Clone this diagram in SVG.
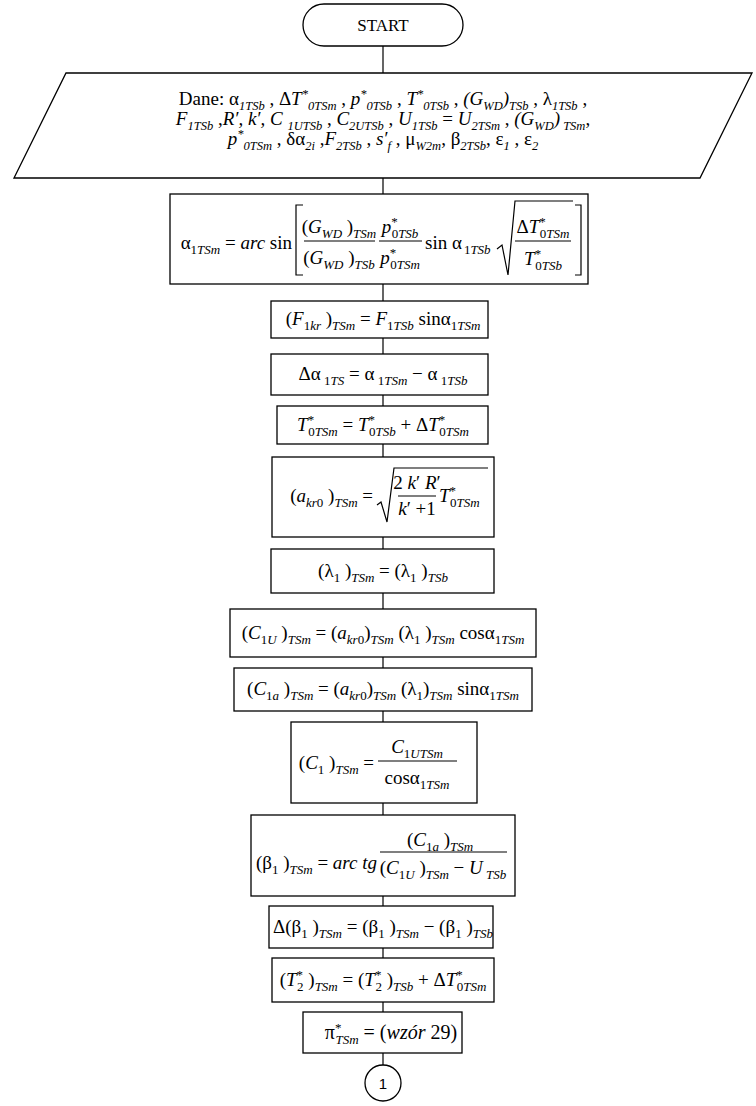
<svg xmlns="http://www.w3.org/2000/svg" width="756" height="1106" viewBox="0 0 756 1106">
<style>
.f{font-family:"Liberation Serif","Times New Roman",serif;font-size:19px;fill:#000}
.d{font-size:19px}
.i{font-style:italic}
.s{font-size:13px}
.ds{font-size:12.5px;font-style:italic}
.b{fill:#fff;stroke:#000;stroke-width:1.3}
.l{fill:none;stroke:#000;stroke-width:1.2}
.c{font-family:"Liberation Sans",Arial,sans-serif;font-size:15px;fill:#000}
</style>
<rect width="756" height="1106" fill="#fff"/>
<g id="connectors" class="l">
<path d="M383 46V73M383 178V194M383 284V301M383 338V354M383 395V406M383 444V457M383 537V549M383 593V609M383 657V668M383 711V722M383 803V815M383 896V906M383 948V958M383 1002V1012M383 1053V1065"/>
</g>
<g id="start">
<rect class="b" x="303" y="4" width="160" height="42" rx="21"/>
<text class="f" x="383" y="31" text-anchor="middle" style="font-size:17px">START</text>
</g>
<g id="dane">
<path class="b" d="M66 73H752L700 178H14Z"/>
<text class="f d" x="383" y="105" text-anchor="middle">Dane: α<tspan class="ds" dy="5">1TSb</tspan><tspan dy="-5"> , Δ</tspan><tspan class="i">T</tspan><tspan class="ds" dy="-7">*</tspan><tspan class="ds" dy="12">0TSm</tspan><tspan dy="-5"> , </tspan><tspan class="i">p</tspan><tspan class="ds" dy="-7">*</tspan><tspan class="ds" dy="12">0TSb</tspan><tspan dy="-5"> , </tspan><tspan class="i">T</tspan><tspan class="ds" dy="-7">*</tspan><tspan class="ds" dy="12">0TSb</tspan><tspan dy="-5"> , </tspan><tspan class="i">(G</tspan><tspan class="ds" dy="5">WD</tspan><tspan class="i" dy="-5">)</tspan><tspan class="ds" dy="5">TSb</tspan><tspan dy="-5"> , λ</tspan><tspan class="ds" dy="5">1TSb</tspan><tspan dy="-5"> ,</tspan></text>
<text class="f d" x="383" y="125" text-anchor="middle"><tspan class="i">F</tspan><tspan class="ds" dy="5">1TSb</tspan><tspan dy="-5"> ,</tspan><tspan class="i">R′, k′, C </tspan><tspan class="ds" dy="5">1UTSb</tspan><tspan dy="-5"> , </tspan><tspan class="i">C</tspan><tspan class="ds" dy="5">2UTSb</tspan><tspan dy="-5"> , </tspan><tspan class="i">U</tspan><tspan class="ds" dy="5">1TSb</tspan><tspan dy="-5"> = </tspan><tspan class="i">U</tspan><tspan class="ds" dy="5">2TSm</tspan><tspan dy="-5"> , </tspan><tspan class="i">(G</tspan><tspan class="ds" dy="5">WD</tspan><tspan class="i" dy="-5">)</tspan><tspan class="ds" dy="5"> TSm</tspan><tspan dy="-5">,</tspan></text>
<text class="f d" x="383" y="145" text-anchor="middle"><tspan class="i">p</tspan><tspan class="ds" dy="-7">*</tspan><tspan class="ds" dy="12">0TSm</tspan><tspan dy="-5"> , δα</tspan><tspan class="ds" dy="5">2i</tspan><tspan dy="-5"> ,</tspan><tspan class="i">F</tspan><tspan class="ds" dy="5">2TSb</tspan><tspan dy="-5"> , </tspan><tspan class="i">s′</tspan><tspan class="ds" dy="5">f</tspan><tspan dy="-5"> , μ</tspan><tspan class="ds" dy="5">W2m</tspan><tspan dy="-5">, β</tspan><tspan class="ds" dy="5">2TSb</tspan><tspan dy="-5">, ε</tspan><tspan class="ds" dy="5">1</tspan><tspan dy="-5"> , ε</tspan><tspan class="ds" dy="5">2</tspan></text>
</g>
<g id="alpha1">
<rect class="b" x="170" y="194" width="418" height="90"/>
<text class="f" x="292" y="249" text-anchor="end">α<tspan class="s" dy="5">1</tspan><tspan class="s i">TSm</tspan><tspan dy="-5"> = </tspan><tspan class="i">arc</tspan> sin</text>
<path class="l" d="M303 205H296V275H303"/>
<text class="f" x="339" y="233" text-anchor="middle">(<tspan class="i">G</tspan><tspan class="s i" dy="5">WD</tspan><tspan dy="-5"> )</tspan><tspan class="s i" dy="5">TSm</tspan></text>
<path class="l" d="M304 241H375"/>
<text class="f" x="339" y="264" text-anchor="middle">(<tspan class="i">G</tspan><tspan class="s i" dy="5">WD</tspan><tspan dy="-5"> )</tspan><tspan class="s i" dy="5">TSb</tspan></text>
<text class="f" x="400" y="233" text-anchor="middle"><tspan class="i">p</tspan><tspan class="s" dy="-7">*</tspan><tspan class="s" dx="-6" dy="12">0</tspan><tspan class="s i">TSb</tspan></text>
<path class="l" d="M379 241H422"/>
<text class="f" x="400" y="264" text-anchor="middle"><tspan class="i">p</tspan><tspan class="s" dy="-7">*</tspan><tspan class="s" dx="-6" dy="12">0</tspan><tspan class="s i">TSm</tspan></text>
<text class="f" x="425" y="249">sin α<tspan class="s" dx="2" dy="5">1</tspan><tspan class="s i">TSb</tspan></text>
<path class="l" d="M497 249L502 245L508 275L515 201H573"/>
<text class="f" x="543" y="233" text-anchor="middle">Δ<tspan class="i">T</tspan><tspan class="s" dy="-7">*</tspan><tspan class="s" dx="-6" dy="12">0</tspan><tspan class="s i">TSm</tspan></text>
<path class="l" d="M515 241H571"/>
<text class="f" x="543" y="265" text-anchor="middle"><tspan class="i">T</tspan><tspan class="s" dy="-7">*</tspan><tspan class="s" dx="-6" dy="12">0</tspan><tspan class="s i">TSb</tspan></text>
<path class="l" d="M575 205H581V275H575"/>
</g>
<g id="f1kr">
<rect class="b" x="271" y="301" width="217" height="37"/>
<text class="f" x="383" y="325" text-anchor="middle">(<tspan class="i">F</tspan><tspan class="s" dy="5">1</tspan><tspan class="s i">kr</tspan><tspan dy="-5"> )</tspan><tspan class="s i" dy="5">TSm</tspan><tspan dy="-5"> = </tspan><tspan class="i">F</tspan><tspan class="s" dy="5">1</tspan><tspan class="s i">TSb</tspan><tspan dy="-5"> sinα</tspan><tspan class="s" dy="5">1</tspan><tspan class="s i">TSm</tspan></text>
</g>
<g id="dalpha">
<rect class="b" x="271" y="354" width="217" height="41"/>
<text class="f" x="383" y="380" text-anchor="middle">Δα<tspan class="s" dy="5"> 1</tspan><tspan class="s i">TS</tspan><tspan dy="-5"> = α</tspan><tspan class="s" dy="5"> 1</tspan><tspan class="s i">TSm</tspan><tspan dy="-5"> − α</tspan><tspan class="s" dy="5"> 1</tspan><tspan class="s i">TSb</tspan></text>
</g>
<g id="t0">
<rect class="b" x="277" y="406" width="211" height="38"/>
<text class="f" x="383" y="431" text-anchor="middle"><tspan class="i">T</tspan><tspan class="s" dy="-7">*</tspan><tspan class="s" dx="-6" dy="12">0</tspan><tspan class="s i">TSm</tspan><tspan dy="-5"> = </tspan><tspan class="i">T</tspan><tspan class="s" dy="-7">*</tspan><tspan class="s" dx="-6" dy="12">0</tspan><tspan class="s i">TSb</tspan><tspan dy="-5"> + Δ</tspan><tspan class="i">T</tspan><tspan class="s" dy="-7">*</tspan><tspan class="s" dx="-6" dy="12">0</tspan><tspan class="s i">TSm</tspan></text>
</g>
<g id="akr0">
<rect class="b" x="272" y="457" width="222" height="80"/>
<text class="f" x="373" y="502" text-anchor="end">(<tspan class="i">a</tspan><tspan class="s i" dy="5">kr</tspan><tspan class="s">0</tspan><tspan dy="-5"> )</tspan><tspan class="s i" dy="5">TSm</tspan><tspan dy="-5"> =</tspan></text>
<path class="l" d="M377 505L381 502L387 522L394 468H488"/>
<text class="f" x="417" y="489" text-anchor="middle">2 <tspan class="i">k</tspan>′ <tspan class="i">R</tspan>′</text>
<path class="l" d="M398 496H436"/>
<text class="f" x="417" y="515" text-anchor="middle"><tspan class="i">k</tspan>′ +1</text>
<text class="f" x="439" y="502"><tspan class="i">T</tspan><tspan class="s" dy="-7">*</tspan><tspan class="s" dx="-6" dy="12">0</tspan><tspan class="s i">TSm</tspan></text>
</g>
<g id="lambda">
<rect class="b" x="271" y="549" width="223" height="44"/>
<text class="f" x="383" y="577" text-anchor="middle">(λ<tspan class="s" dy="5">1</tspan><tspan dy="-5"> )</tspan><tspan class="s i" dy="5">TSm</tspan><tspan dy="-5"> = (λ</tspan><tspan class="s" dy="5">1</tspan><tspan dy="-5"> )</tspan><tspan class="s i" dy="5">TSb</tspan></text>
</g>
<g id="c1u">
<rect class="b" x="230" y="609" width="306" height="48"/>
<text class="f" x="383" y="639" text-anchor="middle">(<tspan class="i">C</tspan><tspan class="s" dy="5">1</tspan><tspan class="s i">U</tspan><tspan dy="-5"> )</tspan><tspan class="s i" dy="5">TSm</tspan><tspan dy="-5"> = (</tspan><tspan class="i">a</tspan><tspan class="s i" dy="5">kr</tspan><tspan class="s">0</tspan><tspan dy="-5">)</tspan><tspan class="s i" dy="5">TSm</tspan><tspan dy="-5"> (λ</tspan><tspan class="s" dy="5">1</tspan><tspan dy="-5"> )</tspan><tspan class="s i" dy="5">TSm</tspan><tspan dy="-5"> cosα</tspan><tspan class="s" dy="5">1</tspan><tspan class="s i">TSm</tspan></text>
</g>
<g id="c1a">
<rect class="b" x="234" y="668" width="298" height="43"/>
<text class="f" x="383" y="695" text-anchor="middle">(<tspan class="i">C</tspan><tspan class="s" dy="5">1</tspan><tspan class="s i">a</tspan><tspan dy="-5"> )</tspan><tspan class="s i" dy="5">TSm</tspan><tspan dy="-5"> = (</tspan><tspan class="i">a</tspan><tspan class="s i" dy="5">kr</tspan><tspan class="s">0</tspan><tspan dy="-5">)</tspan><tspan class="s i" dy="5">TSm</tspan><tspan dy="-5"> (λ</tspan><tspan class="s" dy="5">1</tspan><tspan dy="-5">)</tspan><tspan class="s i" dy="5">TSm</tspan><tspan dy="-5"> sinα</tspan><tspan class="s" dy="5">1</tspan><tspan class="s i">TSm</tspan></text>
</g>
<g id="c1">
<rect class="b" x="291" y="722" width="186" height="81"/>
<text class="f" x="374" y="769" text-anchor="end">(<tspan class="i">C</tspan><tspan class="s" dy="5">1</tspan><tspan dy="-5"> )</tspan><tspan class="s i" dy="5">TSm</tspan><tspan dy="-5"> =</tspan></text>
<text class="f" x="417" y="753" text-anchor="middle"><tspan class="i">C</tspan><tspan class="s" dy="5">1</tspan><tspan class="s i">UTSm</tspan></text>
<path class="l" d="M378 761H457"/>
<text class="f" x="417" y="784" text-anchor="middle">cosα<tspan class="s" dy="5">1</tspan><tspan class="s i">TSm</tspan></text>
</g>
<g id="beta1">
<rect class="b" x="251" y="815" width="264" height="81"/>
<text class="f" x="377" y="869" text-anchor="end">(β<tspan class="s" dy="5">1</tspan><tspan dy="-5"> )</tspan><tspan class="s i" dy="5">TSm</tspan><tspan dy="-5"> = </tspan><tspan class="i">arc tg</tspan></text>
<text class="f" x="440" y="846" text-anchor="middle">(<tspan class="i">C</tspan><tspan class="s" dy="5">1</tspan><tspan class="s i">a</tspan><tspan dy="-5"> )</tspan><tspan class="s i" dy="5">TSm</tspan></text>
<path class="l" d="M380 852H507"/>
<text class="f" x="443" y="874" text-anchor="middle">(<tspan class="i">C</tspan><tspan class="s" dy="5">1</tspan><tspan class="s i">U</tspan><tspan dy="-5"> )</tspan><tspan class="s i" dy="5">TSm</tspan><tspan dy="-5"> − </tspan><tspan class="i">U</tspan><tspan class="s i" dy="5"> TSb</tspan></text>
</g>
<g id="dbeta">
<rect class="b" x="269" y="906" width="224" height="42"/>
<text class="f" x="383" y="933" text-anchor="middle">Δ(β<tspan class="s" dy="5">1</tspan><tspan dy="-5"> )</tspan><tspan class="s i" dy="5">TSm</tspan><tspan dy="-5"> = (β</tspan><tspan class="s" dy="5">1</tspan><tspan dy="-5"> )</tspan><tspan class="s i" dy="5">TSm</tspan><tspan dy="-5"> − (β</tspan><tspan class="s" dy="5">1</tspan><tspan dy="-5"> )</tspan><tspan class="s i" dy="5">TSb</tspan></text>
</g>
<g id="t2">
<rect class="b" x="272" y="958" width="222" height="44"/>
<text class="f" x="383" y="986" text-anchor="middle">(<tspan class="i">T</tspan><tspan class="s" dy="-7">*</tspan><tspan class="s" dx="-6" dy="12">2</tspan><tspan dy="-5"> )</tspan><tspan class="s i" dy="5">TSm</tspan><tspan dy="-5"> = (</tspan><tspan class="i">T</tspan><tspan class="s" dy="-7">*</tspan><tspan class="s" dx="-6" dy="12">2</tspan><tspan dy="-5"> )</tspan><tspan class="s i" dy="5">TSb</tspan><tspan dy="-5"> + Δ</tspan><tspan class="i">T</tspan><tspan class="s" dy="-7">*</tspan><tspan class="s" dx="-6" dy="12">0</tspan><tspan class="s i">TSm</tspan></text>
</g>
<g id="pi">
<rect class="b" x="303" y="1012" width="159" height="41"/>
<text class="f" x="391" y="1039" text-anchor="middle" style="font-size:20px">π<tspan class="s" dy="-7">*</tspan><tspan class="s i" dx="-6" dy="12">TSm</tspan><tspan dy="-5"> = (</tspan><tspan class="i">wzór</tspan> 29)</text>
</g>
<g id="conn1">
<circle class="b" cx="383" cy="1083" r="18"/>
<text class="c" x="383" y="1088.5" text-anchor="middle">1</text>
</g>
</svg>
